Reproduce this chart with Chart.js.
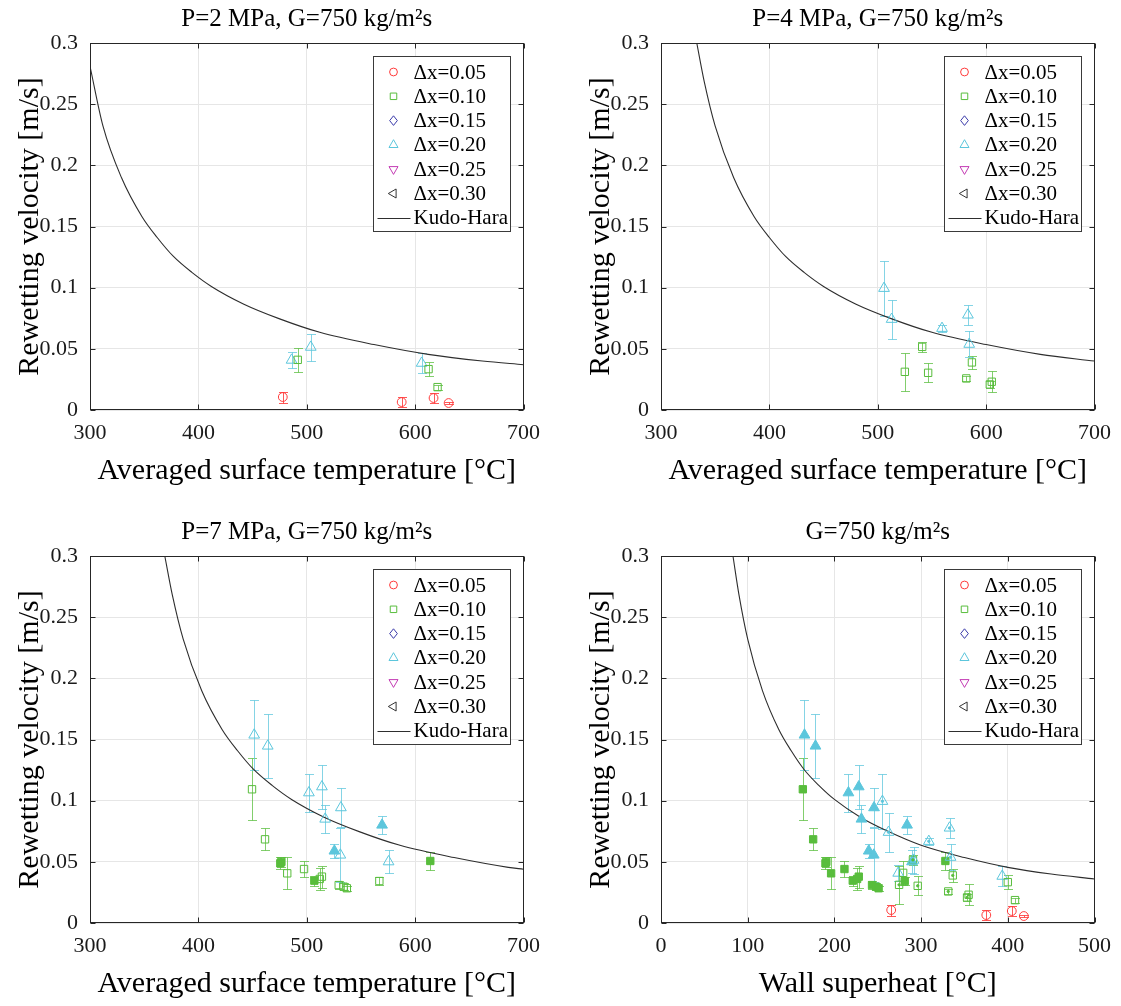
<!DOCTYPE html>
<html><head><meta charset="utf-8">
<script src="https://cdn.jsdelivr.net/npm/chart.js@4.4.0/dist/chart.umd.min.js"></script>
<style>
html,body{margin:0;padding:0;background:#fff;overflow:hidden;width:1121px;height:1006px;}
.p{position:absolute;}
</style></head><body>
<div class="p" style="left:0;top:0"><canvas id="ca" width="550" height="500"></canvas></div>
<div class="p" style="left:571px;top:0"><canvas id="cb" width="550" height="500"></canvas></div>
<div class="p" style="left:0;top:513px"><canvas id="cc" width="550" height="500"></canvas></div>
<div class="p" style="left:571px;top:513px"><canvas id="cd" width="550" height="500"></canvas></div>
<script>
// ---------- tick labels ----------
const yTicks = [0, 0.05, 0.1, 0.15, 0.2, 0.25, 0.3];
const yTickLabels = ['0', '0.05', '0.1', '0.15', '0.2', '0.25', '0.3'];
const tTicks = [300, 400, 500, 600, 700];
const tTickLabels = ['300', '400', '500', '600', '700'];
const shTicks = [0, 100, 200, 300, 400, 500];
const shTickLabels = ['0', '100', '200', '300', '400', '500'];
const legendLabels = ['\u0394x=0.05', '\u0394x=0.10', '\u0394x=0.15', '\u0394x=0.20', '\u0394x=0.25', '\u0394x=0.30', 'Kudo-Hara'];
const titles = ['P=2 MPa, G=750 kg/m\u00B2s', 'P=4 MPa, G=750 kg/m\u00B2s', 'P=7 MPa, G=750 kg/m\u00B2s', 'G=750 kg/m\u00B2s'];
const xTitleT = 'Averaged surface temperature [\u00B0C]';
const xTitleSH = 'Wall superheat [\u00B0C]';
const yTitle = 'Rewetting velocity [m/s]';

// ---------- (a) P=2 MPa ----------
const a_dx05_T = [477.9, 587.6, 617.0, 630.9];
const a_dx05_u = [0.0106, 0.0065, 0.0098, 0.0057];
const a_dx05_e = [0.0045, 0.004, 0.004, 0.001];
const a_dx10_T = [491.7, 612.4, 620.7];
const a_dx10_u = [0.041, 0.0334, 0.0187];
const a_dx10_e = [0.010, 0.006, 0.002];
const a_dx20_T = [486.0, 503.7, 606.0];
const a_dx20_u = [0.0408, 0.0514, 0.0383];
const a_dx20_e = [0.0065, 0.011, 0.008];
const a_kh_T = [300, 312, 329, 348, 362, 377, 394, 412, 442, 475, 512, 562, 612, 662, 700];
const a_kh_u = [0.281, 0.232, 0.190, 0.158, 0.141, 0.1255, 0.1125, 0.101, 0.0865, 0.0745, 0.0635, 0.0535, 0.0455, 0.040, 0.037];

// ---------- (b) P=4 MPa ----------
const b_dx10_T = [525.0, 541.0, 546.5, 581.7, 586.9, 603.4, 605.2];
const b_dx10_u = [0.0312, 0.0516, 0.0304, 0.0258, 0.0389, 0.0209, 0.0231];
const b_dx10_e = [0.0157, 0.004, 0.0078, 0.002, 0.005, 0.003, 0.0084];
const b_dx20_T = [505.8, 512.8, 559.3, 583.2, 584.4];
const b_dx20_u = [0.0995, 0.0742, 0.0668, 0.0777, 0.0538];
const b_dx20_e = [0.0225, 0.016, 0.003, 0.0084, 0.0106];
const b_kh_T = [333, 340, 350, 367, 386, 400, 415, 432, 450, 480, 513, 550, 600, 650, 700];
const b_kh_u = [0.300, 0.268, 0.232, 0.190, 0.158, 0.141, 0.1255, 0.1125, 0.101, 0.0865, 0.0745, 0.0635, 0.0535, 0.0455, 0.040];

// ---------- (c) P=7 MPa ----------
const c_dx10_T = [449.5, 461.5, 482.0, 497.5, 512.0, 514.0, 529.5, 534.0, 537.0, 567.0];
const c_dx10_u = [0.1093, 0.0684, 0.0406, 0.0441, 0.036, 0.0379, 0.031, 0.0297, 0.0284, 0.0343];
const c_dx10_e = [0.0255, 0.0089, 0.0132, 0.0068, 0.009, 0.009, 0.003, 0.003, 0.002, 0.003];
const c_dx10f_T = [475.6, 476.6, 507.0, 614.0];
const c_dx10f_u = [0.0488, 0.050, 0.0346, 0.0507];
const c_dx10f_e = [0.005, 0.004, 0.004, 0.0075];
const c_dx20_T = [451.5, 464.0, 502.0, 514.0, 517.0, 531.5, 531.0, 575.5];
const c_dx20_u = [0.1537, 0.1447, 0.1065, 0.1114, 0.085, 0.0943, 0.0556, 0.0501];
const c_dx20_e = [0.0285, 0.026, 0.0157, 0.0181, 0.0116, 0.016, 0.022, 0.0095];
const c_dx20f_T = [525.5, 569.5];
const c_dx20f_u = [0.0589, 0.0801];
const c_dx20f_e = [0.006, 0.0075];
const c_kh_T = [369, 376, 386, 403, 422, 436, 451, 468, 486, 516, 549, 586, 636, 686, 700];
const c_kh_u = [0.300, 0.268, 0.232, 0.190, 0.158, 0.141, 0.1255, 0.1125, 0.101, 0.0865, 0.0745, 0.0635, 0.0535, 0.0455, 0.044];

// ---------- (d) wall superheat ----------
const d_p2_dx05_sh = [265.5, 375.2, 404.6, 418.5];
const d_p2_dx05_u = [0.0106, 0.0065, 0.0098, 0.0057];
const d_p2_dx05_e = [0.0045, 0.004, 0.004, 0.001];
const d_p2_dx10_sh = [279.3, 400.0, 408.3];
const d_p2_dx10_u = [0.041, 0.0334, 0.0187];
const d_p2_dx10_e = [0.010, 0.006, 0.002];
const d_p2_dx20_sh = [273.6, 291.3, 393.6];
const d_p2_dx20_u = [0.0408, 0.0514, 0.0383];
const d_p2_dx20_e = [0.0065, 0.011, 0.008];
const d_p4_dx10_sh = [274.6, 290.6, 296.1, 331.3, 336.5, 353.0, 354.8];
const d_p4_dx10_u = [0.0312, 0.0516, 0.0304, 0.0258, 0.0389, 0.0209, 0.0231];
const d_p4_dx10_e = [0.0157, 0.004, 0.0078, 0.002, 0.005, 0.003, 0.0084];
const d_p4_dx20_sh = [255.4, 262.4, 308.9, 332.8, 334.0];
const d_p4_dx20_u = [0.0995, 0.0742, 0.0668, 0.0777, 0.0538];
const d_p4_dx20_e = [0.0225, 0.016, 0.003, 0.0084, 0.0106];
const d_p7_dx10_sh = [163.6, 175.5, 189.7, 190.7, 196.2, 211.6, 221.2, 226.2, 228.1, 243.4, 248.0, 251.0, 281.1, 328.0];
const d_p7_dx10_u = [0.1093, 0.0684, 0.0488, 0.050, 0.0406, 0.0441, 0.0346, 0.036, 0.0379, 0.031, 0.0297, 0.0284, 0.0343, 0.0507];
const d_p7_dx10_e = [0.0255, 0.0089, 0.005, 0.004, 0.0132, 0.0068, 0.004, 0.009, 0.009, 0.003, 0.003, 0.002, 0.003, 0.0075];
const d_p7_dx20_sh = [165.5, 178.2, 216.2, 228.1, 231.2, 245.7, 239.6, 245.4, 283.8, 289.5];
const d_p7_dx20_u = [0.1537, 0.1447, 0.1065, 0.1114, 0.085, 0.0943, 0.0589, 0.0556, 0.0801, 0.0501];
const d_p7_dx20_e = [0.0285, 0.026, 0.0157, 0.0181, 0.0116, 0.016, 0.006, 0.022, 0.0075, 0.0095];
const d_kh_sh = [83, 90, 100, 117, 136, 150, 165, 182, 200, 230, 263, 300, 350, 400, 450, 500];
const d_kh_u = [0.300, 0.268, 0.232, 0.190, 0.158, 0.141, 0.1255, 0.1125, 0.101, 0.0865, 0.0745, 0.0635, 0.0535, 0.0455, 0.040, 0.036];

// ---------- styles ----------
const RED = '#ff3b3b', GREEN = '#58bd3c', CYAN = '#5cc6dc', BLUE = '#3a3aaa', MAG = '#c43cb4', BLK = '#333333';
const REDE = 'rgba(255,59,59,0.85)', GREENE = 'rgba(88,189,60,0.75)', CYANE = 'rgba(92,198,220,0.75)';
const FONT = "'Liberation Serif','Times New Roman',serif";
Chart.defaults.font.family = FONT;
Chart.defaults.color = '#1a1a1a';

const legendItems = [
  {style: 'circle', rot: 0, r: 3.9, color: RED},
  {style: 'rect', rot: 0, r: 4.6, color: GREEN},
  {style: 'rectRot', rot: 0, r: 4.8, color: BLUE},
  {style: 'triangle', rot: 0, r: 5.2, color: CYAN},
  {style: 'triangle', rot: 180, r: 5.2, color: MAG},
  {style: 'triangle', rot: 270, r: 5.2, color: BLK},
  {style: 'line', color: '#2e2e2e'}
];

function xy(xs, ys) { return xs.map((x, i) => ({x: x, y: ys[i]})); }
function sc(xs, ys, es, style, color, errColor, filled, r, rot) {
  return {type: 'scatter', label: '', data: xy(xs, ys), err: es, errColor: errColor,
    pointStyle: style, pointRadius: r, pointHoverRadius: r, pointRotation: rot || 0,
    pointBorderColor: color, pointBackgroundColor: filled ? color : 'rgba(0,0,0,0)',
    pointBorderWidth: 1, borderColor: color, backgroundColor: filled ? color : 'rgba(0,0,0,0)', order: 1};
}
function curve(xs, ys) {
  return {type: 'line', label: 'Kudo-Hara', data: xy(xs, ys), borderColor: '#2e2e2e', borderWidth: 1.1,
    pointRadius: 0, fill: false, cubicInterpolationMode: 'monotone', order: 5};
}

function drawMarker(ctx, it, x, y) {
  ctx.save();
  ctx.strokeStyle = it.color; ctx.lineWidth = 1;
  ctx.beginPath();
  const r = it.r;
  if (it.style === 'circle') { ctx.arc(x, y, r, 0, Math.PI * 2); }
  else if (it.style === 'rect') { const s = r * Math.SQRT1_2; ctx.rect(x - s, y - s, 2 * s, 2 * s); }
  else if (it.style === 'rectRot') { ctx.moveTo(x, y - r); ctx.lineTo(x + r * 0.8, y); ctx.lineTo(x, y + r); ctx.lineTo(x - r * 0.8, y); ctx.closePath(); }
  else if (it.style === 'triangle') {
    let rad = it.rot * Math.PI / 180;
    ctx.moveTo(x + Math.sin(rad) * r, y - Math.cos(rad) * r);
    rad += 2 * Math.PI / 3; ctx.lineTo(x + Math.sin(rad) * r, y - Math.cos(rad) * r);
    rad += 2 * Math.PI / 3; ctx.lineTo(x + Math.sin(rad) * r, y - Math.cos(rad) * r);
    ctx.closePath();
  }
  ctx.stroke();
  ctx.restore();
}

const panelPlugin = {
  id: 'panel',
  beforeDatasetsDraw(chart) {
    const ctx = chart.ctx, a = chart.chartArea, xs = chart.scales.x, ys = chart.scales.y;
    ctx.save();
    ctx.beginPath(); ctx.rect(a.left, a.top, a.right - a.left, a.bottom - a.top); ctx.clip();
    chart.data.datasets.forEach(d => {
      if (!d.err) return;
      ctx.strokeStyle = d.errColor; ctx.lineWidth = 1;
      d.data.forEach((p, j) => {
        const e = d.err[j]; if (!e) return;
        const x = Math.round(xs.getPixelForValue(p.x)) + 0.5;
        const y1 = Math.round(ys.getPixelForValue(p.y + e)) + 0.5;
        const y2 = Math.round(ys.getPixelForValue(p.y - e)) + 0.5;
        ctx.beginPath();
        ctx.moveTo(x, y1); ctx.lineTo(x, y2);
        ctx.moveTo(x - 4.5, y1); ctx.lineTo(x + 4.5, y1);
        ctx.moveTo(x - 4.5, y2); ctx.lineTo(x + 4.5, y2);
        ctx.stroke();
      });
    });
    ctx.restore();
  },
  afterDraw(chart) {
    const ctx = chart.ctx, a = chart.chartArea, xs = chart.scales.x, ys = chart.scales.y;
    ctx.save();
    // title, centred over the plot box
    ctx.font = '25px ' + FONT; ctx.fillStyle = '#000'; ctx.textAlign = 'center'; ctx.textBaseline = 'middle';
    ctx.fillText(chart.options.plugins.panel.title, (a.left + a.right) / 2, 19);
    // frame
    ctx.strokeStyle = '#262626'; ctx.lineWidth = 1;
    const L = Math.round(a.left) + 0.5, R = Math.round(a.right) - 0.5, T = Math.round(a.top) + 0.5, B = Math.round(a.bottom) - 0.5;
    ctx.strokeRect(L, T, R - L, B - T);
    // inward ticks
    ctx.beginPath();
    xs.ticks.forEach(t => {
      const x = Math.round(xs.getPixelForValue(t.value)) + 0.5;
      ctx.moveTo(x, B); ctx.lineTo(x, B - 5);
      ctx.moveTo(x, T); ctx.lineTo(x, T + 5);
    });
    ys.ticks.forEach(t => {
      const y = Math.round(ys.getPixelForValue(t.value)) + 0.5;
      ctx.moveTo(L, y); ctx.lineTo(L + 5, y);
      ctx.moveTo(R, y); ctx.lineTo(R - 5, y);
    });
    ctx.stroke();
    // legend box
    const bx = Math.round(a.right - 151) + 0.5, by = Math.round(a.top + 13) + 0.5, bw = 137, bh = 175;
    ctx.fillStyle = '#ffffff'; ctx.fillRect(bx, by, bw, bh);
    ctx.strokeStyle = '#3a3a3a'; ctx.strokeRect(bx, by, bw, bh);
    ctx.font = '21px ' + FONT; ctx.fillStyle = '#000'; ctx.textBaseline = 'middle'; ctx.textAlign = 'left';
    legendItems.forEach((it, i) => {
      const y = by + 15.5 + i * 24.3;
      if (it.style === 'line') {
        ctx.beginPath(); ctx.strokeStyle = it.color; ctx.lineWidth = 1;
        ctx.moveTo(bx + 4, Math.round(y) + 0.5); ctx.lineTo(bx + 37, Math.round(y) + 0.5); ctx.stroke();
      } else {
        drawMarker(ctx, it, bx + 20, y);
      }
      ctx.fillText(legendLabels[i], bx + 40, y + 1);
    });
    ctx.restore();
  }
};

function build(id, title, datasets, xmin, xmax, xticks, xlabels, xtitle) {
  return new Chart(document.getElementById(id), {
    type: 'scatter',
    data: {datasets: datasets},
    options: {
      responsive: false, animation: false, events: [],
      layout: {padding: {left: 0, right: 26, top: 43, bottom: 0}},
      plugins: {
        legend: {display: false}, tooltip: {enabled: false}, title: {display: false},
        panel: {title: title}
      },
      scales: {
        x: {type: 'linear', min: xmin, max: xmax,
          afterBuildTicks: s => { s.ticks = xticks.map(v => ({value: v})); },
          afterFit: s => { s.height = 90; },
          ticks: {font: {size: 22}, color: '#1a1a1a', padding: 10, maxRotation: 0, autoSkip: false,
            callback: (v, i) => xlabels[i]},
          grid: {color: '#e6e6e6', drawTicks: false}, border: {display: false},
          title: {display: true, text: xtitle, color: '#000', font: {size: 30}, padding: {top: 0, bottom: 11}}},
        y: {type: 'linear', min: 0, max: 0.3,
          afterBuildTicks: s => { s.ticks = yTicks.map(v => ({value: v})); },
          afterFit: s => { s.width = 90; },
          ticks: {font: {size: 22}, color: '#1a1a1a', padding: 12, autoSkip: false,
            callback: (v, i) => yTickLabels[i]},
          grid: {color: '#e6e6e6', drawTicks: false}, border: {display: false},
          title: {display: true, text: yTitle, color: '#000', font: {size: 30}, padding: {top: 12, bottom: 0}}}
      }
    },
    plugins: [panelPlugin]
  });
}

build('ca', titles[0], [
  curve(a_kh_T, a_kh_u),
  sc(a_dx05_T, a_dx05_u, a_dx05_e, 'circle', RED, REDE, false, 4.4),
  sc(a_dx10_T, a_dx10_u, a_dx10_e, 'rect', GREEN, GREENE, false, 5.2),
  sc(a_dx20_T, a_dx20_u, a_dx20_e, 'triangle', CYAN, CYANE, false, 6.2)
], 300, 700, tTicks, tTickLabels, xTitleT);

build('cb', titles[1], [
  curve(b_kh_T, b_kh_u),
  sc(b_dx10_T, b_dx10_u, b_dx10_e, 'rect', GREEN, GREENE, false, 5.2),
  sc(b_dx20_T, b_dx20_u, b_dx20_e, 'triangle', CYAN, CYANE, false, 6.2)
], 300, 700, tTicks, tTickLabels, xTitleT);

build('cc', titles[2], [
  curve(c_kh_T, c_kh_u),
  sc(c_dx10_T, c_dx10_u, c_dx10_e, 'rect', GREEN, GREENE, false, 5.2),
  sc(c_dx10f_T, c_dx10f_u, c_dx10f_e, 'rect', GREEN, GREENE, true, 5.2),
  sc(c_dx20_T, c_dx20_u, c_dx20_e, 'triangle', CYAN, CYANE, false, 6.2),
  sc(c_dx20f_T, c_dx20f_u, c_dx20f_e, 'triangle', CYAN, CYANE, true, 6.2)
], 300, 700, tTicks, tTickLabels, xTitleT);

build('cd', titles[3], [
  curve(d_kh_sh, d_kh_u),
  sc(d_p2_dx05_sh, d_p2_dx05_u, d_p2_dx05_e, 'circle', RED, REDE, false, 4.4),
  sc(d_p2_dx10_sh, d_p2_dx10_u, d_p2_dx10_e, 'rect', GREEN, GREENE, false, 5.2),
  sc(d_p2_dx20_sh, d_p2_dx20_u, d_p2_dx20_e, 'triangle', CYAN, CYANE, false, 6.2),
  sc(d_p4_dx10_sh, d_p4_dx10_u, d_p4_dx10_e, 'rect', GREEN, GREENE, false, 5.2),
  sc(d_p4_dx10_sh, d_p4_dx10_u, null, 'circle', GREEN, null, true, 1.2),
  sc(d_p4_dx20_sh, d_p4_dx20_u, d_p4_dx20_e, 'triangle', CYAN, CYANE, false, 6.2),
  sc(d_p4_dx20_sh, d_p4_dx20_u, null, 'circle', CYAN, null, true, 1.2),
  sc(d_p7_dx10_sh, d_p7_dx10_u, d_p7_dx10_e, 'rect', GREEN, GREENE, true, 5.2),
  sc(d_p7_dx20_sh, d_p7_dx20_u, d_p7_dx20_e, 'triangle', CYAN, CYANE, true, 6.2)
], 0, 500, shTicks, shTickLabels, xTitleSH);
</script>
</body></html>
